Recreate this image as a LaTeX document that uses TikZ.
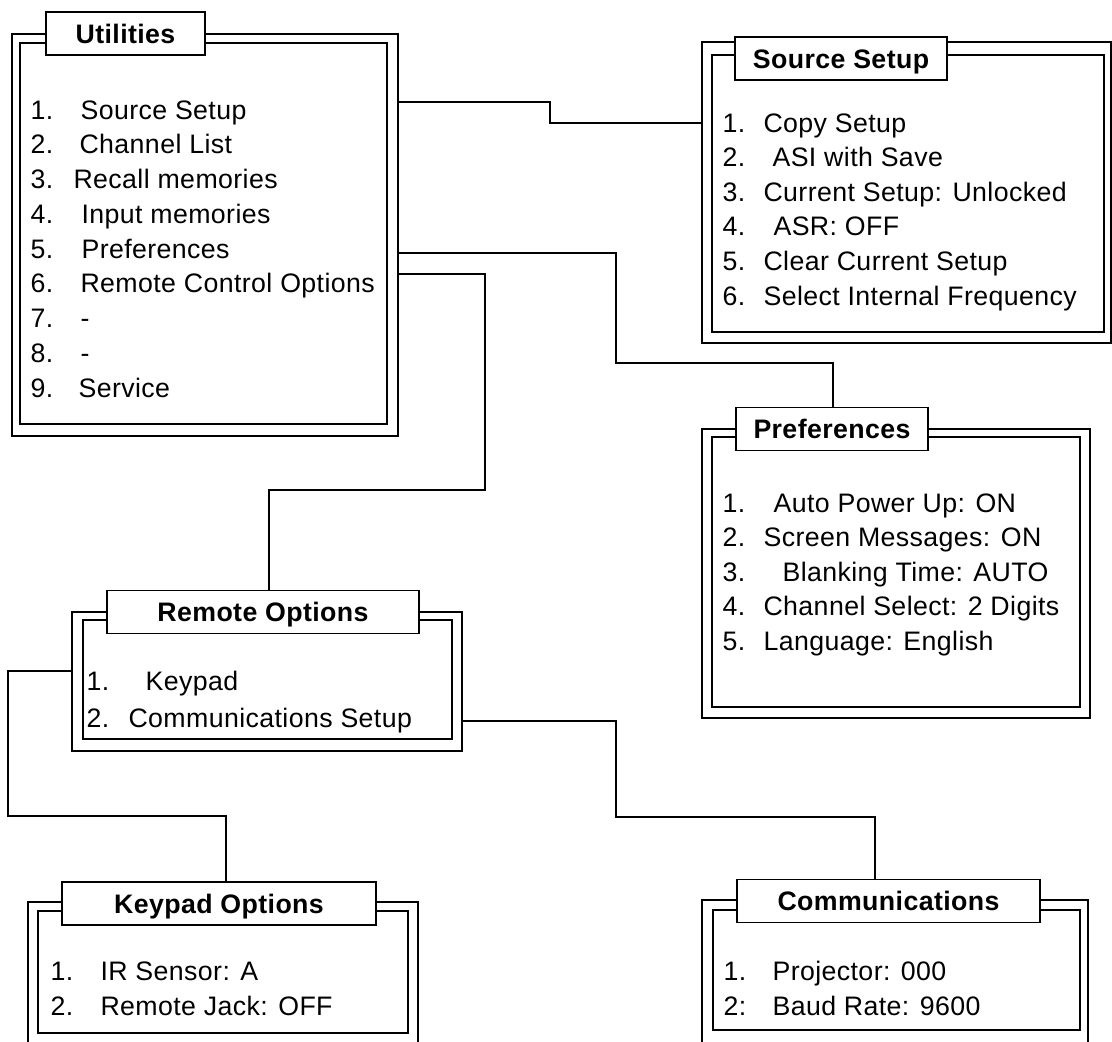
\documentclass[tikz,border=0pt]{standalone}
\usepackage{fontspec}
\setmainfont{Liberation Sans}[LetterSpace=1.5]
\usetikzlibrary{fit}

\begin{document}
\begin{tikzpicture}[x=0.025cm, y=-0.025cm, thick,
    frame/.style = {draw, line width=1.2pt, inner sep=0pt, outer sep=0pt},
    title/.style = {draw, fill=white, line width=1.2pt, inner sep=0pt, outer sep=0pt, minimum height=1.075cm,
                    text height=13.6pt, text depth=0pt, font=\fontsize{19}{24}\selectfont\bfseries},
    item/.style = {anchor=base west, inner sep=0pt, font=\fontsize{19}{24}\selectfont},
    link/.style = {draw, line width=1pt}]
    \useasboundingbox (0,0) rectangle (1112,1041);
    \clip (0,0) rectangle (1112,1041);

    % utilities
    \node[frame, fit={(12,34) (398,436)}] (util) {};
    \node[frame, fit={(20,43) (387,424)}] (utilin) {};
    \node[title, minimum width=3.975cm] (utiltitle) at (125.5,33.5) {Utilities};
    \foreach \n/\t/\x [count=\i] in {1./Source Setup/80, 2./Channel List/79, 3./Recall memories/73,
        4./Input memories/81, 5./Preferences/81, 6./Remote Control Options/80, 7./-/80, 8./-/80, 9./Service/78} {
        \node[item] (un\i) at (30,119+34.75*\i-34.75) {\n};
        \node[item] (ut\i) at (\x,119+34.75*\i-34.75) {\t};
    }

    % source setup
    \node[frame, fit={(702,42) (1111,343)}] (src) {};
    \node[frame, fit={(712,55) (1104,332)}] (srcin) {};
    \node[title, minimum width=5.3cm] (srctitle) at (841,58.5) {Source Setup};
    \foreach \n/\t/\x [count=\i] in {1./Copy Setup/763, 2./ASI with Save/772, 3./Current Setup: Unlocked/763,
        4./ASR: OFF/773, 5./Clear Current Setup/763, 6./Select Internal Frequency/763} {
        \node[item] (sn\i) at (722,132+34.6*\i-34.6) {\n};
        \node[item] (st\i) at (\x,132+34.6*\i-34.6) {\t};
    }

    % preferences
    \node[frame, fit={(702,429) (1090,718)}] (pref) {};
    \node[frame, fit={(712,437) (1080,707)}] (prefin) {};
    \node[title, minimum width=4.8cm] (preftitle) at (832,429) {Preferences};
    \foreach \n/\t/\x [count=\i] in {1./Auto Power Up: ON/773, 2./Screen Messages: ON/763,
        3./Blanking Time: AUTO/782, 4./Channel Select: 2 Digits/763, 5./Language: English/763} {
        \node[item] (pn\i) at (722,512+34.5*\i-34.5) {\n};
        \node[item] (pt\i) at (\x,512+34.5*\i-34.5) {\t};
    }

    % remote options
    \node[frame, fit={(72,612) (462,751)}] (rem) {};
    \node[frame, fit={(83,620) (452,739)}] (remin) {};
    \node[title, minimum width=7.8cm] (remtitle) at (263,612) {Remote Options};
    \foreach \n/\t/\x [count=\i] in {1./Keypad/145, 2./Communications Setup/128} {
        \node[item] (rn\i) at (86,690+37*\i-37) {\n};
        \node[item] (rt\i) at (\x,690+37*\i-37) {\t};
    }

    % keypad options
    \node[frame, fit={(28,902) (418,1050)}] (key) {};
    \node[frame, fit={(38,911) (408,1033)}] (keyin) {};
    \node[title, minimum width=7.85cm] (keytitle) at (219,903.5) {Keypad Options};
    \foreach \n/\t/\x [count=\i] in {1./IR Sensor: A/100, 2./Remote Jack: OFF/100} {
        \node[item] (kn\i) at (50,980+35*\i-35) {\n};
        \node[item] (kt\i) at (\x,980+35*\i-35) {\t};
    }

    % communications
    \node[frame, fit={(702,900) (1088,1050)}] (com) {};
    \node[frame, fit={(713,910) (1080,1030)}] (comin) {};
    \node[title, minimum width=7.575cm] (comtitle) at (888.5,901) {Communications};
    \foreach \n/\t/\x [count=\i] in {1./Projector: 000/772, 2:/Baud Rate: 9600/772} {
        \node[item] (cn\i) at (723,980+35*\i-35) {\n};
        \node[item] (ct\i) at (\x,980+35*\i-35) {\t};
    }

    % links
    \draw[link] (util.east |- 0,102) -| (550,123) -- (src.west |- 0,123);
    \draw[link] (util.east |- 0,253) -| (616,363) -| (preftitle.north -| 833,0);
    \draw[link] (util.east |- 0,274) -| (485,490) -| (remtitle.north -| 269,0);
    \draw[link] (rem.west |- 0,671) -| (8,816) -| (keytitle.north -| 226,0);
    \draw[link] (rem.east |- 0,721) -| (616,817) -| (comtitle.north -| 875,0);
\end{tikzpicture}
\end{document}
